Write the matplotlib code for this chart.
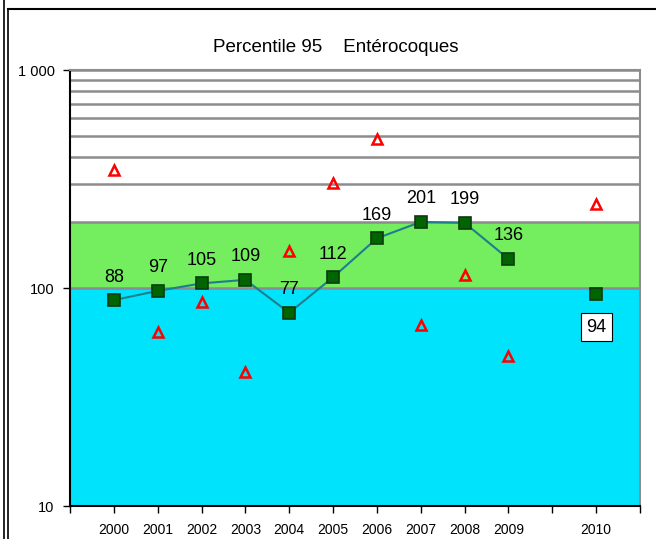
import numpy as np
import matplotlib.pyplot as plt
from matplotlib.lines import Line2D
from matplotlib.ticker import FixedLocator, NullLocator

plt.rcParams['font.family'] = ['Liberation Sans', 'DejaVu Sans']

# Categories (one blank slot before 2010, as in the source sheet)
years = ['2000', '2001', '2002', '2003', '2004', '2005', '2006', '2007', '2008', '2009', '', '2010']
p95 = [88, 97, 105, 109, 77, 112, 169, 201, 199, 136, np.nan, 94]
samples = [348, 63, 86, 41, 148, 303, 483, 68, 115, 49, np.nan, 243]

# Quality bands
good_max = 100
fair_max = 200
y_min, y_max = 10, 1000

fig = plt.figure(figsize=(6.56, 5.39), dpi=100)
ax = fig.add_axes([70 / 656, 1 - 506 / 539, 570 / 656, 436 / 539])

x = np.arange(1, len(years) + 1)

ax.set_yscale('log')
ax.set_ylim(y_min, y_max)
ax.set_xlim(0, len(years) + 1)

# background bands
ax.axhspan(y_min, good_max, color='#00E3FC', zorder=1, lw=0)
ax.axhspan(good_max, fair_max, color='#74EE5E', zorder=1, lw=0)

# horizontal gridlines from 100 up to 1000
for v in range(good_max, y_max + 1, 100):
    ax.axhline(v, color='#8C8C8C', lw=1.8, zorder=1.5)

ax.plot(x, p95, color='#1E7F8C', lw=1.5, marker='s', markersize=8.5,
        markerfacecolor='#006400', markeredgecolor='#0F3A0F', markeredgewidth=1.2, zorder=4)
ax.plot(x, samples, linestyle='none', marker='^', markersize=7,
        markerfacecolor='none', markeredgecolor='#FF0000', markeredgewidth=1.8, zorder=3)

# data labels
for xi, v in zip(x, p95):
    if np.isnan(v):
        continue
    if xi == len(years):
        ax.annotate(f'{v:.0f}', (xi, v), xytext=(0, -24), textcoords='offset points',
                    ha='center', va='center', fontsize=13, zorder=5,
                    bbox=dict(boxstyle='square,pad=0.3', fc='white', ec='black', lw=0.8))
    else:
        ax.annotate(f'{v:.0f}', (xi, v), xytext=(0, 16.5), textcoords='offset points',
                    ha='center', va='center', fontsize=13, zorder=5)

# axes styling
ax.yaxis.set_major_locator(FixedLocator([10, 100, 1000]))
ax.yaxis.set_minor_locator(NullLocator())
ax.set_yticklabels(['10', '100', '1 000'], fontsize=10.5)
ax.set_xticks(np.arange(0, len(years) + 2))
ax.set_xticklabels([''] + years + [''], fontsize=10)
ax.tick_params(axis='both', direction='out', length=5, width=1, color='black', pad=6)
ax.tick_params(axis='x', pad=7)
ax.spines['left'].set_color('black')
ax.spines['bottom'].set_color('black')
ax.spines['right'].set_color('#8C8C8C')
ax.spines['top'].set_color('#8C8C8C')
for s in ax.spines.values():
    s.set_linewidth(1.5)
    s.set_zorder(6)

fig.text(336 / 656, 1 - 47 / 539, 'Percentile 95    Entérocoques', ha='center', va='center', fontsize=13.5)

# chart frame
fig.add_artist(Line2D([3.5 / 656, 3.5 / 656], [0, 1], transform=fig.transFigure, color='black', lw=1.2))
fig.add_artist(Line2D([7.5 / 656, 7.5 / 656], [0, 1 - 9 / 539], transform=fig.transFigure, color='black', lw=1.2))
fig.add_artist(Line2D([7.5 / 656, 1], [1 - 9 / 539, 1 - 9 / 539], transform=fig.transFigure, color='black', lw=1.5))

fig.savefig('out.png', dpi=100)
